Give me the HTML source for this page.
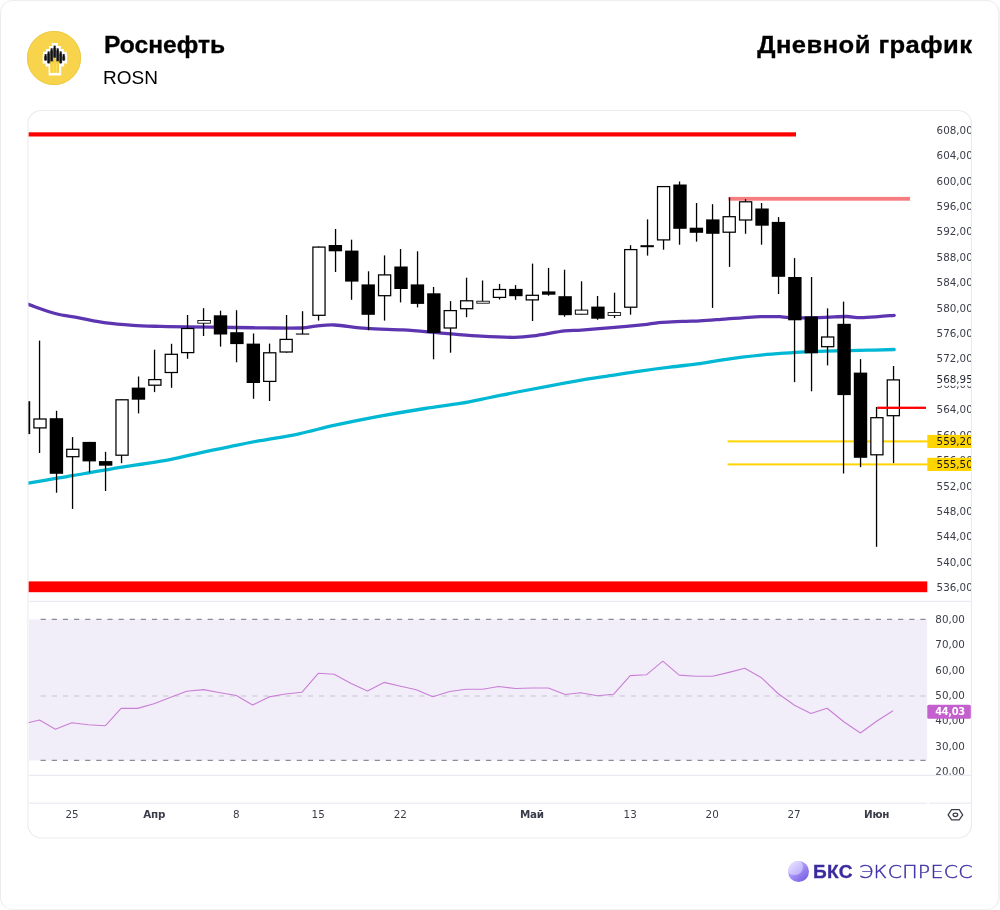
<!DOCTYPE html>
<html lang="ru"><head><meta charset="utf-8"><title>Роснефть ROSN — Дневной график</title>
<style>
html,body{margin:0;padding:0}
body{width:1000px;height:910px;background:#fff;position:relative;overflow:hidden;font-family:"Liberation Sans",sans-serif;color:#000}
.card{position:absolute;left:0;top:0;width:1000px;height:910px;background:#fff;border-style:solid;border-color:#eeeeee #f2f2f2 #f2f2f2 #ececec;border-width:1.2px 2px 1.8px 1.6px;border-radius:13px;box-sizing:border-box}
.chart{position:absolute;left:0;top:0}
.logo{position:absolute;left:27px;top:30.5px}
.title{position:absolute;left:103.9px;top:31px;font-size:23.5px;font-weight:bold;line-height:28px;white-space:nowrap;letter-spacing:0;transform:scaleX(1.048);transform-origin:0 50%;-webkit-text-stroke:0.3px #000}
.ticker{position:absolute;left:103px;top:65.5px;font-size:19px;line-height:24px;white-space:nowrap;letter-spacing:0px}
.period{position:absolute;right:27.4px;top:31px;font-size:23.5px;font-weight:bold;line-height:28px;white-space:nowrap;letter-spacing:0.4px;transform:scaleX(1.09);transform-origin:100% 50%;-webkit-text-stroke:0.3px #000}
.brand{position:absolute;left:787px;top:860px;height:24px;white-space:nowrap;color:#3a2c9f;line-height:24px}
.brand .ball{position:absolute;left:0.6px;top:0.9px;width:21.4px;height:21.4px;border-radius:50%;overflow:hidden;background:linear-gradient(140deg,#cfc4ff 0%,#a894f6 45%,#7c62e6 85%)}
.brand .ball::after{content:"";position:absolute;left:-1.5px;top:-2px;width:16.5px;height:16.5px;border-radius:50%;background:linear-gradient(140deg,#f1edff 10%,#d3c8ff 55%,#b9a9fa 100%)}
.brand b{position:absolute;left:26.3px;top:0;font-weight:bold;font-size:18.2px;letter-spacing:0.3px;transform:scaleX(1.05);transform-origin:0 50%;-webkit-text-stroke:0.3px #3a2c9f}
.brand span{position:absolute;left:72.2px;top:0;font-family:"DejaVu Sans Light","DejaVu Sans",sans-serif;font-weight:200;font-size:17.8px;letter-spacing:0.25px;color:#3f31a6;-webkit-text-stroke:0.4px #3f31a6;transform:scaleX(1.15);transform-origin:0 50%}
</style></head><body>
<div class="card"></div>
<svg class="logo" width="54" height="54" viewBox="27 30.5 54 54"><circle cx="54" cy="57.5" r="27" fill="#f8d44c"/><circle cx="54" cy="57.5" r="26.6" fill="none" stroke="#e9c640" stroke-width="0.8"/><path fill="#fff" d="M51.4 42.6h6.4v2.9h3v2.9h3v2.9h3v2.9h0.3v8.8h-3v2.9h-2.9v9h-12.6v-9h-2.9v-2.9h-3v-8.8h0.3v-2.9h3v-2.9h3v-2.9h3.4z"/><rect x="44.08" y="55.800000000000004" width="3.02" height="3.8" fill="#666"/><rect x="47.10" y="53.1" width="3.02" height="9.3" fill="#666"/><rect x="50.12" y="50.0" width="3.02" height="12.8" fill="#666"/><rect x="53.14" y="47.300000000000004" width="3.02" height="15.5" fill="#666"/><rect x="56.16" y="50.0" width="3.02" height="12.8" fill="#666"/><rect x="59.18" y="53.1" width="3.02" height="9.3" fill="#666"/><rect x="62.20" y="55.800000000000004" width="3.02" height="3.8" fill="#666"/><rect x="44.59" y="53.6" width="2.0" height="6.6" fill="#111"/><rect x="47.61" y="50.9" width="2.0" height="12.1" fill="#111"/><rect x="50.63" y="47.8" width="2.0" height="15.6" fill="#111"/><rect x="53.65" y="45.1" width="2.0" height="18.3" fill="#111"/><rect x="56.67" y="47.8" width="2.0" height="15.6" fill="#111"/><rect x="59.69" y="50.9" width="2.0" height="12.1" fill="#111"/><rect x="62.71" y="53.6" width="2.0" height="6.6" fill="#111"/><rect x="50.22" y="60.8" width="2.96" height="11.6" fill="#f7d23f"/><rect x="53.17" y="57.2" width="2.96" height="15.2" fill="#f7d23f"/><rect x="56.12" y="60.8" width="2.96" height="11.6" fill="#f7d23f"/><rect x="52.92" y="61.5" width="0.5" height="10.9" fill="#fbe58a"/><rect x="55.88" y="61.5" width="0.5" height="10.9" fill="#fbe58a"/></svg>
<div class="title">Роснефть</div>
<div class="ticker">ROSN</div>
<div class="period">Дневной график</div>
<svg class="chart" width="1000" height="910" viewBox="0 0 1000 910"><defs><clipPath id="cc"><rect x="28.45" y="111.05" width="942.5" height="726.4" rx="13" ry="13"/></clipPath><clipPath id="ax"><rect x="927" y="111" width="43.95" height="727"/></clipPath></defs><rect x="27.9" y="110.5" width="943.6" height="727.5" rx="13.5" ry="13.5" fill="#fff" stroke="#ebebee" stroke-width="1.1"/><g clip-path="url(#cc)"><rect x="29" y="619.4" width="898.2" height="141" fill="#f2eef9"/><line x1="40.6" x2="927.2" y1="619.4" y2="619.4" stroke="#8a8d96" stroke-width="1.2" stroke-dasharray="5.2 5.936"/><line x1="40.6" x2="927.2" y1="760.4" y2="760.4" stroke="#8a8d96" stroke-width="1.2" stroke-dasharray="5.2 5.936"/><line x1="40.6" x2="927.2" y1="696" y2="696" stroke="#c4c6cc" stroke-width="1.2" stroke-dasharray="5.2 5.936"/><polyline points="28.3,722.8 39.5,720.0 55.4,729.3 71.8,722.8 88.3,724.8 105.2,725.8 121.1,708.4 137.5,708.4 154.0,703.8 170.7,697.2 186.6,691.2 203.8,689.6 220.2,692.7 236.4,695.5 252.6,705.0 269.0,696.9 285.4,694.0 301.8,692.3 318.3,673.3 334.2,674.3 351.1,683.4 367.5,691.0 384.0,682.4 400.7,686.2 416.3,689.7 432.8,696.8 449.7,691.5 466.1,689.2 482.6,689.2 498.7,686.5 515.4,688.5 531.8,688.0 548.3,688.0 565.2,694.5 580.6,692.8 597.5,695.8 613.5,694.3 630.2,675.6 646.3,674.8 662.8,661.2 679.2,675.1 696.1,676.3 712.6,676.3 729.0,672.4 744.7,668.3 761.1,677.4 778.0,693.5 794.5,705.2 810.9,713.5 827.1,708.2 843.8,721.8 860.4,733.0 876.6,721.3 893.0,710.7" fill="none" stroke="#c97fd6" stroke-width="1.1" stroke-linejoin="round"/><line x1="29" x2="971" y1="601.3" y2="601.3" stroke="#e4e6ee" stroke-width="1"/><line x1="29" x2="971" y1="775.3" y2="775.3" stroke="#e4e6ee" stroke-width="1"/><line x1="29" x2="927.3" y1="803.2" y2="803.2" stroke="#e4e6ee" stroke-width="1"/><line x1="929" x2="971" y1="803.2" y2="803.2" stroke="#e4e6ee" stroke-width="1"/><rect x="28.4" y="132.3" width="767.6" height="4.2" fill="#ff0000"/><rect x="28.4" y="581.4" width="898.9" height="10.8" fill="#ff0000"/><rect x="728.4" y="196.9" width="181.6" height="3.8" fill="#f77c80"/><rect x="727.6" y="440.4" width="200" height="2" fill="#ffd400"/><rect x="727.6" y="463.4" width="200" height="2" fill="#ffd400"/><path d="M28.3 483.2 C32.9 482.4 48.4 479.6 55.7 478.4 C63.0 477.1 66.7 476.6 72.2 475.7 C77.7 474.8 83.1 473.8 88.7 472.8 C94.3 471.8 100.5 470.7 106.0 469.8 C111.5 468.9 111.0 468.9 121.7 467.2 C132.4 465.5 156.9 462.0 170.0 459.6 C183.1 457.2 190.0 455.0 200.0 452.8 C210.0 450.6 220.0 448.6 230.0 446.6 C240.0 444.6 248.5 442.8 260.0 440.7 C271.5 438.6 286.5 436.4 299.0 433.8 C311.5 431.2 321.5 428.1 335.0 425.2 C348.5 422.3 365.0 419.0 380.0 416.2 C395.0 413.4 411.7 410.6 425.0 408.5 C438.3 406.4 449.2 405.2 460.0 403.4 C470.8 401.6 480.0 399.5 490.0 397.5 C500.0 395.5 510.0 393.4 520.0 391.5 C530.0 389.6 540.0 387.7 550.0 385.8 C560.0 383.9 570.0 382.1 580.0 380.4 C590.0 378.7 600.0 377.2 610.0 375.6 C620.0 374.1 630.0 372.5 640.0 371.1 C650.0 369.7 660.0 368.4 670.0 367.2 C680.0 365.9 691.5 364.8 700.0 363.6 C708.5 362.4 714.0 361.3 721.0 360.2 C728.0 359.1 735.0 358.1 742.0 357.2 C749.0 356.3 756.0 355.5 763.0 354.8 C770.0 354.1 777.0 353.6 784.0 353.1 C791.0 352.6 796.6 352.2 805.0 351.8 C813.4 351.4 823.9 351.2 834.4 350.9 C844.9 350.6 858.0 350.4 868.0 350.2 C878.0 350.0 889.8 349.6 894.2 349.5" fill="none" stroke="#00b8d4" stroke-width="3.3" stroke-linejoin="round" stroke-linecap="round"/><path d="M28.3 304.4 C32.8 305.9 46.8 311.3 55.2 313.5 C63.7 315.7 70.5 316.2 79.0 317.8 C87.5 319.4 97.0 321.6 106.0 322.9 C115.0 324.1 124.0 324.7 133.0 325.3 C142.0 325.9 151.0 326.1 160.0 326.4 C169.0 326.6 174.5 326.6 187.0 326.8 C199.5 327.0 222.0 327.3 235.0 327.5 C248.0 327.7 254.0 327.8 265.0 327.9 C276.0 328.0 292.5 328.3 301.0 328.0 C309.5 327.7 310.2 326.7 315.8 326.2 C321.4 325.7 326.2 324.6 334.6 325.0 C343.0 325.4 355.0 327.6 366.4 328.4 C377.8 329.2 392.1 329.3 403.0 329.9 C413.9 330.5 424.1 331.5 432.1 332.2 C440.1 332.9 442.9 333.2 451.0 333.9 C459.1 334.5 470.4 335.5 481.0 336.1 C491.6 336.7 505.6 337.4 514.4 337.3 C523.2 337.2 525.2 336.9 533.6 335.8 C542.0 334.7 556.7 331.8 564.6 330.8 C572.5 329.9 573.4 330.6 581.3 330.1 C589.1 329.6 600.8 328.7 611.7 327.7 C622.7 326.7 638.6 325.2 647.0 324.3 C655.4 323.4 656.3 322.9 662.2 322.4 C668.1 321.9 676.1 321.7 682.4 321.4 C688.7 321.1 693.6 321.1 700.0 320.8 C706.4 320.5 714.0 319.9 721.0 319.4 C728.0 318.9 735.3 318.2 742.0 317.8 C748.7 317.4 754.7 316.9 761.0 316.7 C767.3 316.5 775.0 316.5 779.8 316.7 C784.6 316.9 783.4 317.4 790.0 317.6 C796.6 317.8 812.3 317.8 819.7 317.7 C827.1 317.6 829.9 317.1 834.4 316.9 C838.9 316.7 842.6 316.4 847.0 316.5 C851.4 316.6 855.4 317.6 860.6 317.6 C865.9 317.6 872.9 317.0 878.5 316.6 C884.1 316.2 891.6 315.5 894.2 315.3" fill="none" stroke="#5e35b1" stroke-width="3.3" stroke-linejoin="round" stroke-linecap="round"/><rect x="17" y="401.2" width="13.2" height="32.9" fill="#000"/><rect x="38.90" y="340.6" width="1.3" height="112.4" fill="#000"/><rect x="33.92" y="419.0" width="12.15" height="8.9" fill="#fff" stroke="#000" stroke-width="1.25"/><rect x="55.90" y="410.8" width="1.3" height="81.9" fill="#000"/><rect x="49.71" y="418.2" width="13.4" height="55.6" fill="#000"/><rect x="71.90" y="437.1" width="1.3" height="71.8" fill="#000"/><rect x="66.74" y="449.3" width="12.15" height="7.4" fill="#fff" stroke="#000" stroke-width="1.25"/><rect x="88.90" y="441.9" width="1.3" height="30.6" fill="#000"/><rect x="82.53" y="441.9" width="13.4" height="19.5" fill="#000"/><rect x="104.90" y="451.8" width="1.3" height="39.2" fill="#000"/><rect x="98.94" y="461.1" width="13.4" height="4.6" fill="#000"/><rect x="120.90" y="399.2" width="1.3" height="64.0" fill="#000"/><rect x="115.97" y="399.8" width="12.15" height="55.4" fill="#fff" stroke="#000" stroke-width="1.25"/><rect x="137.90" y="376.5" width="1.3" height="36.9" fill="#000"/><rect x="131.76" y="387.6" width="13.4" height="12.1" fill="#000"/><rect x="153.90" y="349.7" width="1.3" height="42.4" fill="#000"/><rect x="148.80" y="379.6" width="12.15" height="5.6" fill="#fff" stroke="#000" stroke-width="1.25"/><rect x="170.90" y="343.8" width="1.3" height="44.0" fill="#000"/><rect x="165.21" y="354.3" width="12.15" height="18.2" fill="#fff" stroke="#000" stroke-width="1.25"/><rect x="186.90" y="315.0" width="1.3" height="43.8" fill="#000"/><rect x="181.62" y="328.5" width="12.15" height="24.1" fill="#fff" stroke="#000" stroke-width="1.25"/><rect x="202.90" y="308.2" width="1.3" height="27.8" fill="#000"/><rect x="197.83" y="320.5" width="12.55" height="2.7" fill="#fff" stroke="#000" stroke-width="0.85"/><rect x="219.90" y="310.7" width="1.3" height="35.9" fill="#000"/><rect x="213.81" y="315.3" width="13.4" height="19.2" fill="#000"/><rect x="235.90" y="310.2" width="1.3" height="52.1" fill="#000"/><rect x="230.22" y="332.2" width="13.4" height="11.9" fill="#000"/><rect x="252.90" y="333.5" width="1.3" height="65.3" fill="#000"/><rect x="246.63" y="343.6" width="13.4" height="39.4" fill="#000"/><rect x="268.90" y="343.6" width="1.3" height="57.4" fill="#000"/><rect x="263.67" y="352.8" width="12.15" height="28.6" fill="#fff" stroke="#000" stroke-width="1.25"/><rect x="285.90" y="315.0" width="1.3" height="37.7" fill="#000"/><rect x="280.07" y="339.4" width="12.15" height="12.6" fill="#fff" stroke="#000" stroke-width="1.25"/><rect x="301.90" y="311.2" width="1.3" height="22.8" fill="#000"/><rect x="295.86" y="333.5" width="13.4" height="1.1" fill="#000"/><rect x="317.90" y="246.5" width="1.3" height="74.1" fill="#000"/><rect x="312.90" y="247.1" width="12.15" height="68.2" fill="#fff" stroke="#000" stroke-width="1.25"/><rect x="334.90" y="229.0" width="1.3" height="43.0" fill="#000"/><rect x="328.68" y="245.0" width="13.4" height="6.3" fill="#000"/><rect x="350.90" y="239.7" width="1.3" height="60.1" fill="#000"/><rect x="345.09" y="250.6" width="13.4" height="31.0" fill="#000"/><rect x="367.90" y="271.3" width="1.3" height="58.9" fill="#000"/><rect x="361.50" y="284.4" width="13.4" height="30.4" fill="#000"/><rect x="383.90" y="255.4" width="1.3" height="65.2" fill="#000"/><rect x="378.54" y="274.9" width="12.15" height="20.8" fill="#fff" stroke="#000" stroke-width="1.25"/><rect x="399.90" y="249.0" width="1.3" height="53.4" fill="#000"/><rect x="394.32" y="266.5" width="13.4" height="22.5" fill="#000"/><rect x="416.90" y="251.3" width="1.3" height="56.1" fill="#000"/><rect x="410.73" y="284.4" width="13.4" height="19.5" fill="#000"/><rect x="432.90" y="287.0" width="1.3" height="72.3" fill="#000"/><rect x="427.14" y="293.3" width="13.4" height="39.7" fill="#000"/><rect x="449.90" y="301.1" width="1.3" height="51.6" fill="#000"/><rect x="444.18" y="310.6" width="12.15" height="17.4" fill="#fff" stroke="#000" stroke-width="1.25"/><rect x="465.90" y="277.7" width="1.3" height="39.5" fill="#000"/><rect x="460.59" y="300.8" width="12.15" height="7.9" fill="#fff" stroke="#000" stroke-width="1.25"/><rect x="481.90" y="280.5" width="1.3" height="22.5" fill="#000"/><rect x="476.80" y="301.2" width="12.55" height="2.0" fill="#fff" stroke="#000" stroke-width="0.85"/><rect x="498.90" y="283.9" width="1.3" height="15.6" fill="#000"/><rect x="493.41" y="289.5" width="12.15" height="7.9" fill="#fff" stroke="#000" stroke-width="1.25"/><rect x="514.90" y="285.1" width="1.3" height="14.7" fill="#000"/><rect x="509.19" y="288.9" width="13.4" height="7.3" fill="#000"/><rect x="531.90" y="263.6" width="1.3" height="57.4" fill="#000"/><rect x="526.22" y="295.3" width="12.15" height="4.6" fill="#fff" stroke="#000" stroke-width="1.25"/><rect x="547.90" y="267.9" width="1.3" height="27.8" fill="#000"/><rect x="542.01" y="291.4" width="13.4" height="3.3" fill="#000"/><rect x="563.90" y="269.7" width="1.3" height="47.0" fill="#000"/><rect x="558.42" y="296.2" width="13.4" height="19.0" fill="#000"/><rect x="580.90" y="281.3" width="1.3" height="33.4" fill="#000"/><rect x="575.33" y="310.1" width="12.40" height="4.1" fill="#fff" stroke="#000" stroke-width="1.0"/><rect x="596.90" y="296.0" width="1.3" height="23.8" fill="#000"/><rect x="591.24" y="306.6" width="13.4" height="12.1" fill="#000"/><rect x="613.90" y="292.7" width="1.3" height="25.3" fill="#000"/><rect x="608.07" y="312.6" width="12.55" height="2.8" fill="#fff" stroke="#000" stroke-width="0.85"/><rect x="629.90" y="245.2" width="1.3" height="69.5" fill="#000"/><rect x="624.68" y="249.6" width="12.15" height="57.6" fill="#fff" stroke="#000" stroke-width="1.25"/><rect x="646.90" y="219.4" width="1.3" height="36.2" fill="#000"/><rect x="640.47" y="245.2" width="13.4" height="2.0" fill="#000"/><rect x="662.90" y="186.0" width="1.3" height="63.7" fill="#000"/><rect x="657.50" y="186.6" width="12.15" height="53.3" fill="#fff" stroke="#000" stroke-width="1.25"/><rect x="678.90" y="181.5" width="1.3" height="63.2" fill="#000"/><rect x="673.29" y="184.5" width="13.4" height="44.3" fill="#000"/><rect x="695.90" y="203.0" width="1.3" height="38.6" fill="#000"/><rect x="689.70" y="227.7" width="13.4" height="5.1" fill="#000"/><rect x="711.90" y="204.2" width="1.3" height="103.7" fill="#000"/><rect x="706.11" y="219.4" width="13.4" height="14.4" fill="#000"/><rect x="728.90" y="197.4" width="1.3" height="69.5" fill="#000"/><rect x="723.14" y="216.7" width="12.15" height="15.5" fill="#fff" stroke="#000" stroke-width="1.25"/><rect x="744.90" y="199.2" width="1.3" height="34.6" fill="#000"/><rect x="739.55" y="201.8" width="12.15" height="18.2" fill="#fff" stroke="#000" stroke-width="1.25"/><rect x="760.90" y="203.0" width="1.3" height="41.7" fill="#000"/><rect x="755.34" y="208.5" width="13.4" height="17.2" fill="#000"/><rect x="777.90" y="217.1" width="1.3" height="76.9" fill="#000"/><rect x="771.75" y="221.9" width="13.4" height="54.9" fill="#000"/><rect x="793.90" y="258.1" width="1.3" height="124.0" fill="#000"/><rect x="788.16" y="277.0" width="13.4" height="43.3" fill="#000"/><rect x="810.90" y="277.0" width="1.3" height="114.3" fill="#000"/><rect x="804.57" y="316.5" width="13.4" height="36.8" fill="#000"/><rect x="826.90" y="308.4" width="1.3" height="57.0" fill="#000"/><rect x="821.61" y="337.0" width="12.15" height="9.7" fill="#fff" stroke="#000" stroke-width="1.25"/><rect x="842.90" y="301.6" width="1.3" height="171.9" fill="#000"/><rect x="837.39" y="323.8" width="13.4" height="71.3" fill="#000"/><rect x="859.90" y="359.1" width="1.3" height="108.0" fill="#000"/><rect x="853.80" y="372.6" width="13.4" height="85.2" fill="#000"/><rect x="875.90" y="407.0" width="1.3" height="139.8" fill="#000"/><rect x="870.83" y="417.7" width="12.15" height="37.1" fill="#fff" stroke="#000" stroke-width="1.25"/><rect x="892.90" y="366.0" width="1.3" height="97.1" fill="#000"/><rect x="887.25" y="379.9" width="12.15" height="35.8" fill="#fff" stroke="#000" stroke-width="1.25"/><rect x="877.2" y="406.65" width="48.8" height="2.3" fill="#ff0000"/></g><g clip-path="url(#ax)" font-family="'DejaVu Sans', 'Liberation Sans', sans-serif" font-size="10.35" fill="#3a3d49"><text x="936.6" y="133.8">608,00</text><text x="936.6" y="159.2">604,00</text><text x="936.6" y="184.6">600,00</text><text x="936.6" y="210.0">596,00</text><text x="936.6" y="235.4">592,00</text><text x="936.6" y="260.8">588,00</text><text x="936.6" y="286.2">584,00</text><text x="936.6" y="311.6">580,00</text><text x="936.6" y="337.0">576,00</text><text x="936.6" y="362.4">572,00</text><text x="936.6" y="387.8">568,00</text><text x="936.6" y="413.2">564,00</text><text x="936.6" y="438.6">560,00</text><text x="936.6" y="464.1">556,00</text><text x="936.6" y="489.5">552,00</text><text x="936.6" y="514.9">548,00</text><text x="936.6" y="540.3">544,00</text><text x="936.6" y="565.7">540,00</text><text x="936.6" y="591.1">536,00</text><rect x="928" y="372.2" width="43" height="13.5" fill="#fff"/><text x="936.6" y="382.7" fill="#1f222c">568,95</text><rect x="927.3" y="434.9" width="44" height="13.1" fill="#ffd400"/><text x="936.6" y="445.3" fill="#15171d">559,20</text><rect x="927.3" y="457.8" width="44" height="13.2" fill="#ffd400"/><text x="936.6" y="468.3" fill="#15171d">555,50</text></g><g font-family="'DejaVu Sans', 'Liberation Sans', sans-serif" font-size="10.35" fill="#3a3d49"><text x="935.3" y="622.7">80,00</text><text x="935.3" y="648.1">70,00</text><text x="935.3" y="673.5">60,00</text><text x="935.3" y="698.9">50,00</text><text x="935.3" y="724.3">40,00</text><text x="935.3" y="749.7">30,00</text><clipPath id="c20"><rect x="927" y="760" width="44" height="14.8"/></clipPath><text x="935.3" y="775.1" clip-path="url(#c20)">20,00</text><rect x="927.3" y="704.8" width="43.5" height="13.9" rx="1.5" ry="1.5" fill="#c45fce"/><text x="935.2" y="715.1" fill="#fff" font-weight="bold" font-size="9.9" letter-spacing="-0.35">44,03</text></g><g font-family="'DejaVu Sans', 'Liberation Sans', sans-serif" font-size="10.35" fill="#3a3d49" text-anchor="middle"><text x="72" y="818.2">25</text><text x="154.2" y="818.2" font-weight="bold" letter-spacing="-0.3">Апр</text><text x="236.4" y="818.2">8</text><text x="318.2" y="818.2">15</text><text x="400.3" y="818.2">22</text><text x="531.8" y="818.2" font-weight="bold" letter-spacing="-0.3">Май</text><text x="630.2" y="818.2">13</text><text x="712.2" y="818.2">20</text><text x="794" y="818.2">27</text><text x="876.6" y="818.2" font-weight="bold" letter-spacing="-0.3">Июн</text></g><g fill="none" stroke="#3a3d49" stroke-width="1.25" stroke-linejoin="round"><path d="M948.1 814.8 L951.6 809.7 L959.2 809.7 L962.7 814.8 L959.2 819.9 L951.6 819.9 Z"/><ellipse cx="955.4" cy="814.8" rx="2.3" ry="1.7"/></g></svg>
<div class="brand"><i class="ball"></i><b>БКС</b><span>ЭКСПРЕСС</span></div>
</body></html>
